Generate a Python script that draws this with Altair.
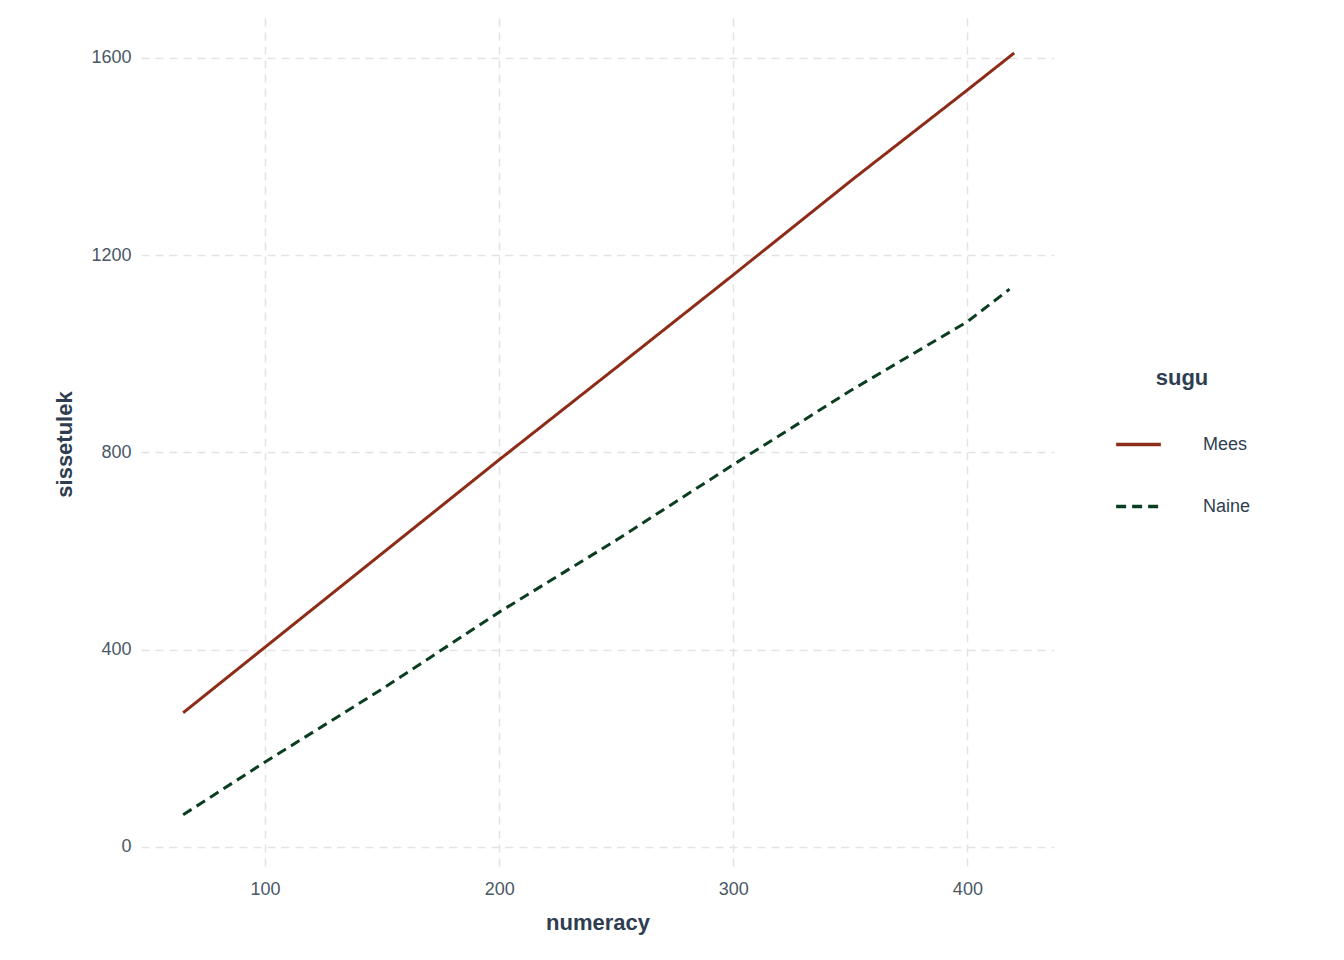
import altair as alt
import pandas as pd

x_vals = [65, 100, 150, 200, 250, 300, 350, 400, 420]
mees = [272, 405, 595, 785, 972, 1160, 1350, 1535, 1610]
naine_x = [65, 100, 150, 200, 250, 300, 350, 400, 418]
naine = [65, 172, 320, 476, 622, 775, 925, 1065, 1131]

rows = [{"numeracy": x, "sissetulek": y, "sugu": "Mees"} for x, y in zip(x_vals, mees)]
rows += [{"numeracy": x, "sissetulek": y, "sugu": "Naine"} for x, y in zip(naine_x, naine)]
df = pd.DataFrame(rows)

font = "Liberation Sans"
chart = alt.Chart(df).mark_line(strokeWidth=3).encode(
    x=alt.X("numeracy:Q", scale=alt.Scale(domain=[47, 437], nice=False),
            axis=alt.Axis(values=[100, 200, 300, 400], title="numeracy", format="d")),
    y=alt.Y("sissetulek:Q", scale=alt.Scale(domain=[-47, 1681], nice=False),
            axis=alt.Axis(values=[0, 400, 800, 1200, 1600], title="sissetulek", format="d")),
    color=alt.Color("sugu:N", scale=alt.Scale(domain=["Mees", "Naine"], range=["#8E2C1A", "#0B3D20"]),
                    legend=alt.Legend(title="sugu", symbolType="stroke", symbolSize=2000,
                                      symbolStrokeWidth=3.5, titleFontSize=22, labelFontSize=18,
                                      titleFont=font, labelFont=font, titleColor="#2E3E50",
                                      labelColor="#2E3E50", rowPadding=28, titlePadding=30,
                                      labelOffset=40, orient="none", legendX=973, legendY=350,
                                      titleAnchor="middle")),
    strokeDash=alt.StrokeDash("sugu:N", scale=alt.Scale(domain=["Mees", "Naine"], range=[[1, 0], [10, 6]])),
).properties(width=913, height=852, padding={"left": 45, "top": 10, "right": 5, "bottom": 5}).configure_axis(
    grid=True, gridDash=[8, 6], gridColor="#E3E3E3", gridWidth=1.5, domain=False, ticks=False,
    labelFontSize=18, titleFontSize=22, labelFont=font, titleFont=font,
    labelColor="#4A5866", titleColor="#2E3E50", labelPadding=10, titlePadding=14,
).configure_view(stroke=None)

chart.save("out.html", embed_options={"renderer": "svg", "actions": False})
